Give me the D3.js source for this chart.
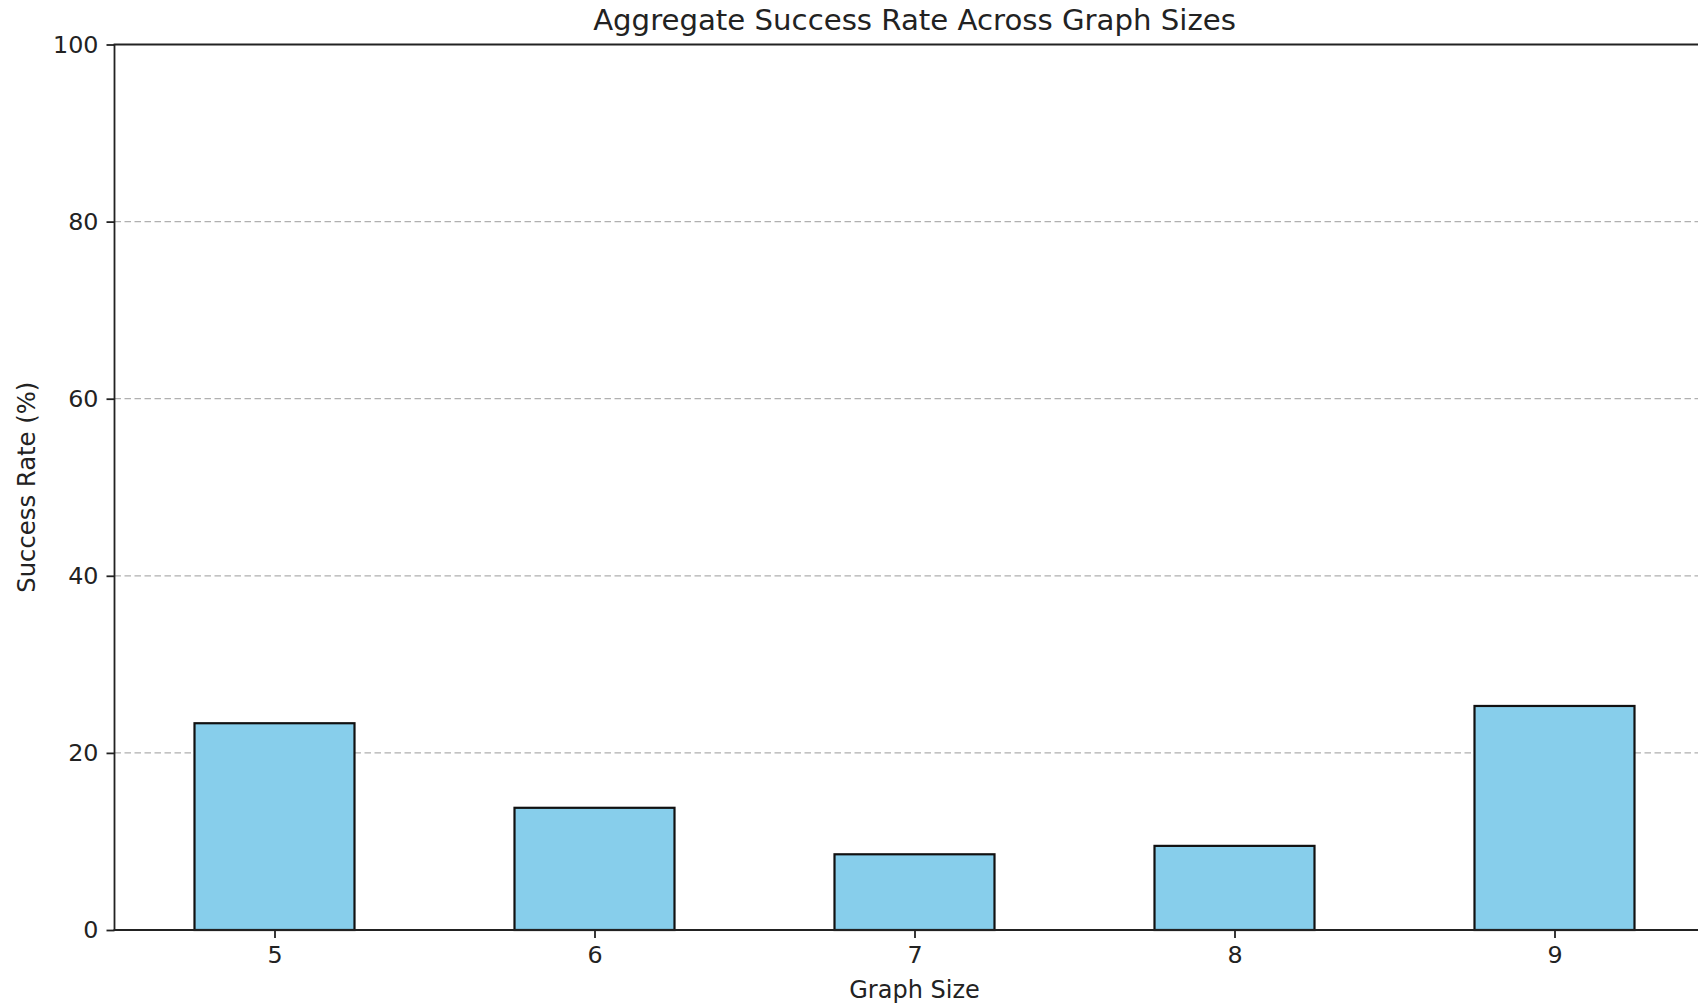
<!DOCTYPE html>
<html>
<head>
<meta charset="utf-8">
<script src="https://cdn.jsdelivr.net/npm/d3@7"></script>
<style>
  html, body { margin: 0; padding: 0; background: #fff; overflow: hidden; }
  svg { display: block; font-family: "DejaVu Sans", sans-serif; }
</style>
</head>
<body>
<svg id="chart" width="1698" height="1007"></svg>
<script>
const categories = [5, 6, 7, 8, 9];
const successRates = [23.35, 13.8, 8.55, 9.5, 25.3];
const yTicks = [0, 20, 40, 60, 80, 100];
const titleText = "Aggregate Success Rate Across Graph Sizes";
const xLabelText = "Graph Size";
const yLabelText = "Success Rate (%)";

(function () {
const svg = d3.select("#chart");
const pLeft = 114.5, pRight = 1714.5, pTop = 44.5, pBottom = 930;

const x = d3.scaleLinear().domain([4.5, 9.5]).range([pLeft, pRight]);
const y = d3.scaleLinear().domain([0, 100]).range([pBottom, pTop]);
const barW = 0.5;

// gridlines
svg.append("g").selectAll("line")
  .data(yTicks.filter(t => t > 0 && t < 100))
  .join("line")
  .attr("x1", pLeft).attr("x2", pRight)
  .attr("y1", d => y(d)).attr("y2", d => y(d))
  .attr("stroke", "#b0b0b0").attr("stroke-width", 1.3)
  .attr("stroke-dasharray", "6.5,3.5");

// bars
svg.append("g").selectAll("rect")
  .data(categories.map((c, i) => ({c, v: successRates[i]})))
  .join("rect")
  .attr("x", d => x(d.c - barW / 2))
  .attr("width", d => x(d.c + barW / 2) - x(d.c - barW / 2))
  .attr("y", d => y(d.v))
  .attr("height", d => y(0) - y(d.v))
  .attr("fill", "#87CEEB")
  .attr("stroke", "#111").attr("stroke-width", 2.2);

// axes
const yAxis = d3.axisLeft(y).tickValues(yTicks).tickSize(8).tickPadding(8).tickFormat(d3.format("d"));
const xAxis = d3.axisBottom(x).tickValues(categories).tickSize(8).tickPadding(8).tickFormat(d3.format("d"));

const gy = svg.append("g").attr("transform", `translate(${pLeft},0)`).call(yAxis);
const gx = svg.append("g").attr("transform", `translate(0,${pBottom})`).call(xAxis);
[gx, gy].forEach(g => {
  g.select(".domain").remove();
  g.selectAll(".tick line").attr("stroke", "#222").attr("stroke-width", 1.8);
  g.selectAll(".tick text").attr("fill", "#222").style("font-size", "23.8px").style("font-family", "DejaVu Sans");
});

// spines
const spine = (x1, y1, x2, y2) => svg.append("line")
  .attr("x1", x1).attr("y1", y1).attr("x2", x2).attr("y2", y2)
  .attr("stroke", "#222").attr("stroke-width", 1.8);
spine(pLeft, pTop, pLeft, pBottom);
spine(pLeft - 0.9, pBottom, pRight, pBottom);
spine(pLeft - 0.9, pTop, pRight, pTop);
spine(pRight, pTop, pRight, pBottom);

// title & labels
svg.append("text").attr("x", (pLeft + pRight) / 2).attr("y", 30)
  .attr("text-anchor", "middle").style("font-size", "29.2px").attr("fill", "#222")
  .text(titleText);
svg.append("text").attr("x", (pLeft + pRight) / 2).attr("y", 998)
  .attr("text-anchor", "middle").style("font-size", "24px").attr("fill", "#222")
  .text(xLabelText);
svg.append("text")
  .attr("transform", `translate(35,${(pTop + pBottom) / 2}) rotate(-90)`)
  .attr("text-anchor", "middle").style("font-size", "24.3px").attr("fill", "#222")
  .text(yLabelText);
})();
</script>
</body>
</html>
